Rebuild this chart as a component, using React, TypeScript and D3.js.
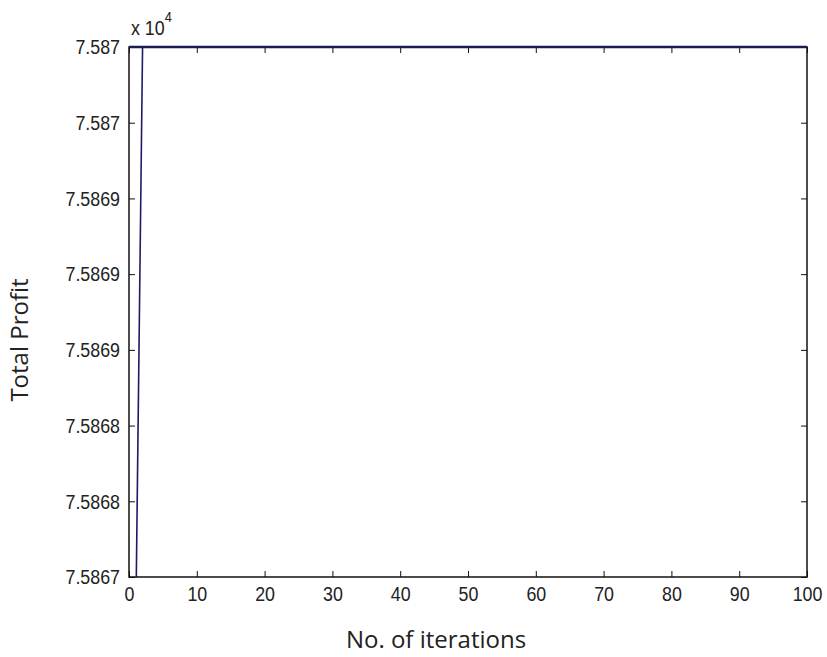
import React, { useEffect, useRef } from 'react'
import * as d3 from 'd3'

// iterations 1..100 and total profit per iteration
const iterations = d3.range(1, 101)
const profit = [
  75866.7, 75870.5, 75870.5, 75870.5, 75870.5, 75870.5, 75870.5, 75870.5, 75870.5, 75870.5,
  75870.5, 75870.5, 75870.5, 75870.5, 75870.5, 75870.5, 75870.5, 75870.5, 75870.5, 75870.5,
  75870.5, 75870.5, 75870.5, 75870.5, 75870.5, 75870.5, 75870.5, 75870.5, 75870.5, 75870.5,
  75870.5, 75870.5, 75870.5, 75870.5, 75870.5, 75870.5, 75870.5, 75870.5, 75870.5, 75870.5,
  75870.5, 75870.5, 75870.5, 75870.5, 75870.5, 75870.5, 75870.5, 75870.5, 75870.5, 75870.5,
  75870.5, 75870.5, 75870.5, 75870.5, 75870.5, 75870.5, 75870.5, 75870.5, 75870.5, 75870.5,
  75870.5, 75870.5, 75870.5, 75870.5, 75870.5, 75870.5, 75870.5, 75870.5, 75870.5, 75870.5,
  75870.5, 75870.5, 75870.5, 75870.5, 75870.5, 75870.5, 75870.5, 75870.5, 75870.5, 75870.5,
  75870.5, 75870.5, 75870.5, 75870.5, 75870.5, 75870.5, 75870.5, 75870.5, 75870.5, 75870.5,
  75870.5, 75870.5, 75870.5, 75870.5, 75870.5, 75870.5, 75870.5, 75870.5, 75870.5, 75870.5,
]

const xTicks = [0, 10, 20, 30, 40, 50, 60, 70, 80, 90, 100]
const yTicks = [75867, 75867.5, 75868, 75868.5, 75869, 75869.5, 75870, 75870.5]
const yTickLabels = ['7.5867', '7.5868', '7.5868', '7.5869', '7.5869', '7.5869', '7.587', '7.587']

const W = 827
const H = 657
const margin = { left: 129, right: 20, top: 47, bottom: 80 }
const tickFont = '"Liberation Sans", Arial, sans-serif'
const labelFont = '"Open Sans", "Noto Sans", sans-serif'
const sx = 0.85 // tick labels in the original are a narrow face

export default function App() {
  const svgRef = useRef<SVGSVGElement>(null)

  useEffect(() => {
    const svg = d3.select(svgRef.current)
    svg.selectAll('*').remove()

    const x = d3.scaleLinear().domain([0, 100]).range([margin.left, W - margin.right])
    const y = d3.scaleLinear().domain([75867, 75870.5]).range([H - margin.bottom, margin.top])
    const x0 = margin.left, x1 = W - margin.right
    const y0 = H - margin.bottom, y1 = margin.top

    svg.append('defs').append('clipPath').attr('id', 'plotclip')
      .append('rect').attr('x', x0).attr('y', y1 - 2).attr('width', x1 - x0).attr('height', y0 - y1 + 2)

    // data line
    const line = d3.line<number>().x((d, i) => x(iterations[i])).y(d => y(d))
    svg.append('path')
      .datum(profit)
      .attr('clip-path', 'url(#plotclip)')
      .attr('d', line)
      .attr('fill', 'none')
      .attr('stroke', '#1c1c66')
      .attr('stroke-width', 1.6)

    const axisColor = '#111'
    const tl = 6

    // bottom / top ticks
    const xAxisB = d3.axisBottom(x).tickValues(xTicks).tickSizeInner(-tl).tickSizeOuter(0).tickPadding(9)
    const gx = svg.append('g').attr('transform', `translate(0,${y0})`).call(xAxisB)
    gx.select('.domain').remove()
    gx.selectAll('line').attr('stroke', axisColor)
    gx.selectAll('text')
      .attr('transform', `scale(${sx},1)`)
      .attr('font-family', tickFont).attr('font-size', 21).attr('fill', '#222')

    const xAxisT = d3.axisTop(x).tickValues(xTicks).tickSizeInner(-tl).tickSizeOuter(0).tickFormat(() => '')
    const gxt = svg.append('g').attr('transform', `translate(0,${y1})`).call(xAxisT)
    gxt.select('.domain').remove()
    gxt.selectAll('line').attr('stroke', axisColor)

    // left / right ticks
    const yAxisL = d3.axisLeft(y).tickValues(yTicks).tickSizeInner(-tl).tickSizeOuter(0).tickPadding(9)
      .tickFormat((d, i) => yTickLabels[i])
    const gy = svg.append('g').attr('transform', `translate(${x0},0)`).call(yAxisL)
    gy.select('.domain').remove()
    gy.selectAll('line').attr('stroke', axisColor)
    gy.selectAll('text')
      .attr('x', -9 / sx)
      .attr('transform', `scale(${sx},1)`)
      .attr('font-family', tickFont).attr('font-size', 21).attr('fill', '#222')

    const yAxisR = d3.axisRight(y).tickValues(yTicks).tickSizeInner(-tl).tickSizeOuter(0).tickFormat(() => '')
    const gyr = svg.append('g').attr('transform', `translate(${x1},0)`).call(yAxisR)
    gyr.select('.domain').remove()
    gyr.selectAll('line').attr('stroke', axisColor)

    // box
    svg.append('rect')
      .attr('x', x0).attr('y', y1).attr('width', x1 - x0).attr('height', y0 - y1)
      .attr('fill', 'none').attr('stroke', axisColor).attr('stroke-width', 1.5)
    svg.append('line')
      .attr('x1', x0).attr('x2', x1).attr('y1', y1).attr('y2', y1)
      .attr('stroke', '#1c1c55').attr('stroke-width', 2.5)

    // exponent
    const ex = svg.append('text')
      .attr('transform', `translate(${x0 + 2},35) scale(${sx},1)`)
      .attr('font-family', tickFont).attr('font-size', 21).attr('fill', '#222')
    ex.append('tspan').text('x 10')
    ex.append('tspan').attr('font-size', 15).attr('dy', -13).text('4')

    // axis labels
    svg.append('text')
      .attr('x', 436).attr('y', 648)
      .attr('text-anchor', 'middle')
      .attr('font-family', labelFont).attr('font-size', 24).attr('fill', '#222')
      .text('No. of iterations')

    svg.append('text')
      .attr('transform', 'translate(28,340) rotate(-90)')
      .attr('text-anchor', 'middle')
      .attr('font-family', labelFont).attr('font-size', 24).attr('fill', '#222')
      .text('Total Profit')
  }, [])

  return (
    <svg ref={svgRef} width={W} height={H}
      style={{ position: 'absolute', left: 0, top: 0, background: '#fff' }} />
  )
}
